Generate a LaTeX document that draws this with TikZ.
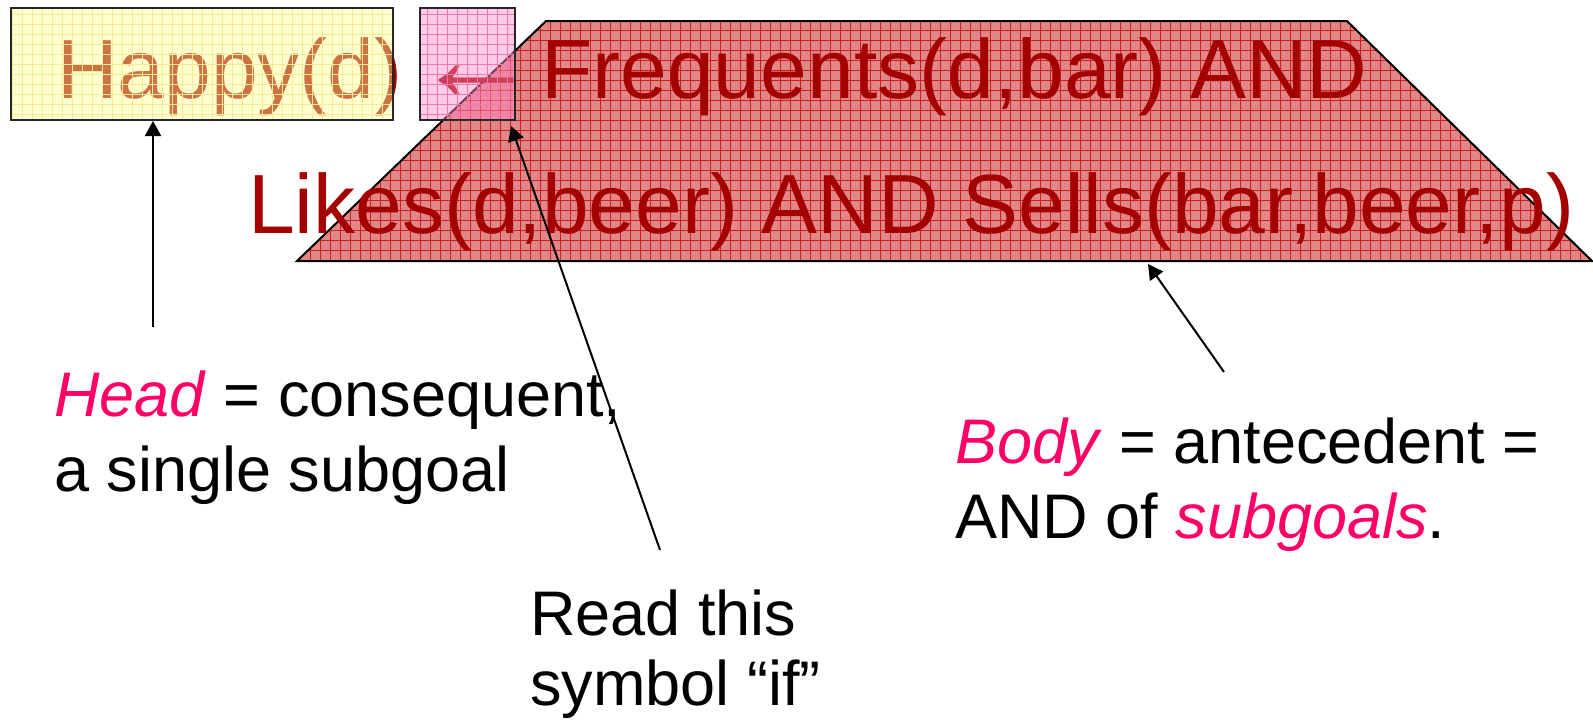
\documentclass[tikz,border=0pt]{standalone}
\usepackage{fontspec}
\setmainfont{Liberation Sans}
\usetikzlibrary{arrows.meta}
\definecolor{dred}{RGB}{165,0,0}
\definecolor{hot}{RGB}{255,0,102}
\definecolor{trapfill}{RGB}{226,135,135}
\definecolor{trapgrid}{RGB}{205,30,30}
\definecolor{yelfill}{RGB}{255,255,150}
\definecolor{yelgrid}{RGB}{248,235,150}
\definecolor{pinkfill}{RGB}{255,140,200}
\definecolor{pinkgrid}{RGB}{240,120,170}
\begin{document}
\begin{tikzpicture}[x=1pt,y=-1pt,
  bigtext/.style={font=\fontsize{84}{100}\selectfont, text=dred, inner sep=0pt, anchor=base west},
  smalltext/.style={font=\fontsize{63}{75}\selectfont, inner sep=0pt, anchor=base west},
  pointer/.style={draw=black, line width=2pt, -{Triangle[length=15pt,width=16pt]}},
  overlaybox/.style={draw=black!85, line width=2pt, fill opacity=0.45, inner sep=0pt, anchor=north west}
]
\useasboundingbox (0,0) rectangle (1593,726);
% trapezoid (body)
\coordinate (tl) at (546,21);
\coordinate (tr) at (1347,21);
\coordinate (br) at (1592,261);
\coordinate (bl) at (297,261);
\begin{scope}
  \clip (bl)--(tl)--(tr)--(br)--cycle;
  \fill[trapfill] (bl)--(tl)--(tr)--(br)--cycle;
  \draw[trapgrid, line width=0.7pt, step=10pt] (290,15) grid (1600,270);
\end{scope}
\draw[black, line width=2pt, line join=miter] (bl)--(tl)--(tr)--(br)--cycle;
% rule text
\node[bigtext] (happy) at (57,98) {Happy(d)};
\node[font=\fontsize{126}{140}\selectfont, text=dred, inner sep=0pt, anchor=base] (ifarrow) at (476,101) {←};
\node[bigtext] (freq) at (541,98) {Frequents(d,bar) AND};
\node[bigtext] (likes) at (248,233) {Likes(d,beer) AND Sells(bar,beer,p)};
% overlay boxes
\node[overlaybox, fill=yelfill, minimum width=382pt, minimum height=112pt,
  path picture={\draw[yelgrid, line width=0.7pt, step=10pt] (path picture bounding box.south west) grid (path picture bounding box.north east);}]
  (hb) at (10,7) {};
\node[overlaybox, fill=pinkfill, minimum width=95pt, minimum height=112pt,
  path picture={\draw[pinkgrid, line width=0.7pt, step=10pt] (path picture bounding box.south west) grid (path picture bounding box.north east);}]
  (ifbox) at (419,7) {};
% explanations
\node[smalltext] (headtxt) at (54,416) {\begin{tabular}[t]{@{}l@{}}\textcolor{hot}{\textit{Head}} = consequent,\\ a single subgoal\end{tabular}};
\node[smalltext] (bodytxt) at (955,463) {\begin{tabular}[t]{@{}l@{}}\textcolor{hot}{\textit{Body}} = antecedent =\\ AND of \textcolor{hot}{\textit{subgoals}}.\end{tabular}};
\node[smalltext, font=\fontsize{63}{70}\selectfont] (readtxt) at (530,635) {\begin{tabular}[t]{@{}l@{}}Read this\\ symbol “if”\end{tabular}};
% pointers
\coordinate (headtail) at (153,327);
\draw[pointer] (headtail) -- (headtail |- hb.south);
\coordinate (readtail) at (660,550);
\draw[pointer] (readtail) -- ([shift={(-5,5)}]ifbox.south east);
\coordinate (bodytail) at (1224,372);
\coordinate (bodytip) at (1148,264);
\draw[pointer] (bodytail) -- (bodytip);
\end{tikzpicture}
\end{document}
